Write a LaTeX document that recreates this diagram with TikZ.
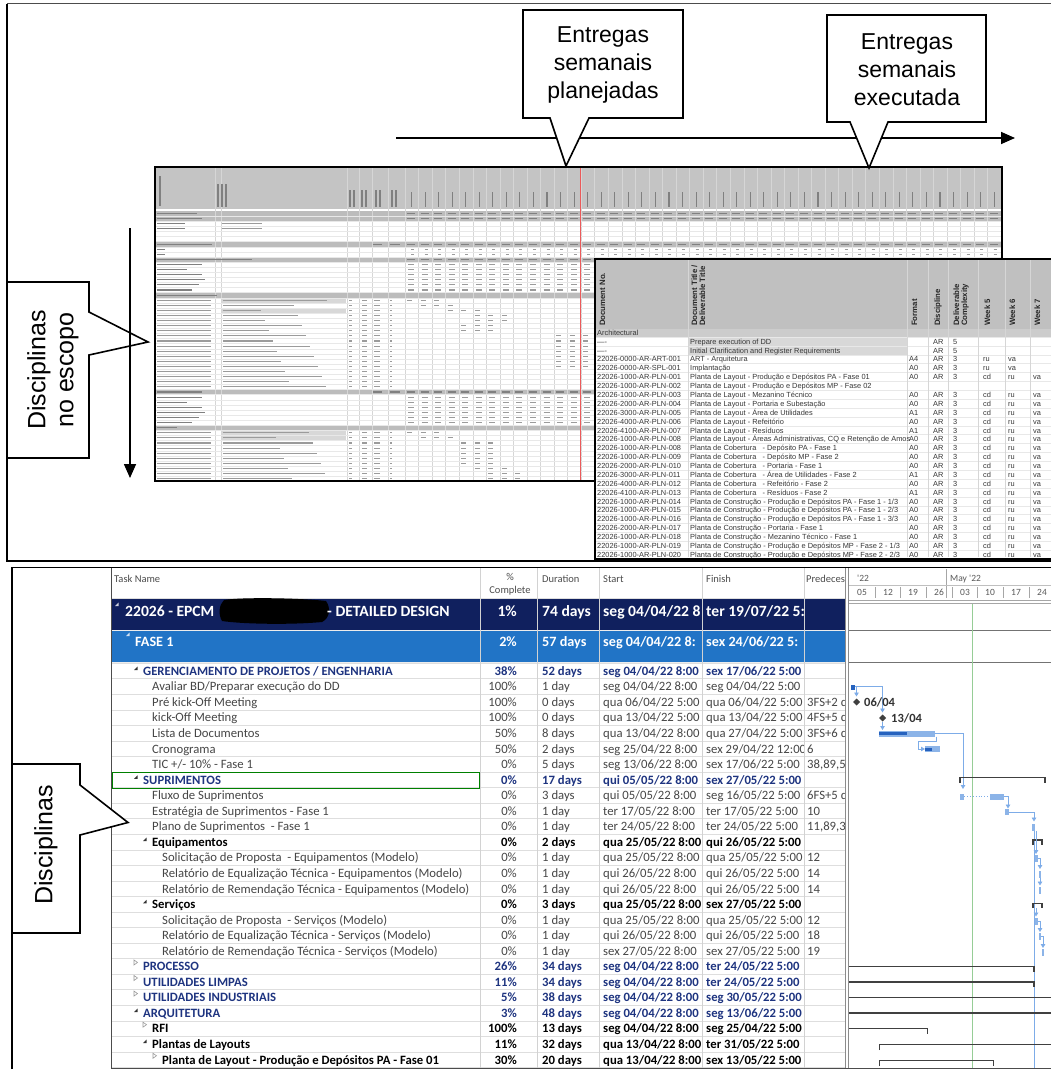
\documentclass[tikz,border=0pt]{standalone}
\usepackage{fontspec}
\setmainfont{Liberation Sans}
\newfontfamily\calfont{Carlito}
\usetikzlibrary{arrows.meta}

\definecolor{navyrow}{RGB}{16,32,94}
\definecolor{bluerow}{RGB}{33,116,198}
\definecolor{sumtxt}{RGB}{30,52,128}
\definecolor{tasktxt}{RGB}{70,70,70}
\definecolor{gridc}{RGB}{222,222,222}
\definecolor{hdrgray}{RGB}{196,196,196}
\definecolor{secgray}{RGB}{188,188,188}
\definecolor{ltgray}{RGB}{216,216,216}
\definecolor{listhdr}{RGB}{192,192,192}
\definecolor{listsec}{RGB}{204,204,204}
\definecolor{collinec}{RGB}{214,214,214}
\definecolor{rowlinec}{RGB}{232,232,232}
\definecolor{tabsep}{RGB}{210,210,210}
\definecolor{barlt}{RGB}{140,180,232}
\definecolor{bardk}{RGB}{38,98,190}
\definecolor{linkc}{RGB}{125,172,232}
\definecolor{sumbar}{RGB}{64,64,64}
\definecolor{todayc}{RGB}{150,205,150}
\definecolor{ssgray}{RGB}{155,155,155}
\definecolor{dtxt}{RGB}{55,55,55}
\definecolor{redline}{RGB}{235,90,90}

\tikzset{
  callout/.style={draw=black, line width=1.6pt, fill=white, line join=miter},
  ctext/.style={font=\fontsize{23}{28}\selectfont, align=center, inner sep=0pt},
  vtext/.style={font=\fontsize{25}{28}\selectfont, align=center, inner sep=0pt, rotate=90},
  ph/.style={line width=1.1pt, ssgray},
  phd/.style={line width=1.1pt, black!50},
  hph/.style={line width=1.1pt, black!50},
  colline/.style={draw=collinec, line width=0.5pt},
  rowline/.style={draw=rowlinec, line width=0.4pt},
  dt/.style={font=\fontsize{7.4}{8}\selectfont, text=dtxt, anchor=base west, inner sep=0pt},
  dh/.style={font=\bfseries\fontsize{7.8}{8}\selectfont, text=black!85, rotate=90, anchor=base west, inner sep=0pt},
  tk/.style={font=\calfont\fontsize{12.7}{14}\selectfont, text=tasktxt, anchor=base west, inner sep=0pt},
  rT/.style={},
  rSE/.style={font=\calfont\bfseries\fontsize{12.7}{14}\selectfont, text=sumtxt},
  rSC/.style={rSE},
  rBE/.style={font=\calfont\bfseries\fontsize{12.7}{14}\selectfont, text=black},
  rBC/.style={rBE},
  gh/.style={font=\calfont\fontsize{10.5}{12}\selectfont, text=black!70, anchor=base west, inner sep=0pt},
  wk/.style={font=\calfont\fontsize{9.5}{11}\selectfont, text=black!65, anchor=base, inner sep=0pt},
  bar/.style={fill=barlt},
  prog/.style={fill=bardk},
  link/.style={draw=linkc, line width=0.9pt},
  linka/.style={link, -{Triangle[length=4pt,width=4.5pt]}},
  sumb/.style={draw=sumbar, line width=1.8pt},
  msl/.style={font=\calfont\bfseries\fontsize{12.5}{14}\selectfont, text=black!80, anchor=west, inner sep=0pt},
  big/.style={font=\calfont\bfseries\fontsize{15.6}{17}\selectfont, text=white},
  mid/.style={font=\calfont\bfseries\fontsize{14.2}{16}\selectfont, text=white},
}

% outline markers in the task-name column
\newcommand\mkrSE[2]{\fill[black!80] ({#1-9},{#2-1}) -- ({#1-5.5},{#2-1}) -- ({#1-5.5},{#2-4.5}) -- cycle;}
\newcommand\mkrBE[2]{\mkrSE{#1}{#2}}
\newcommand\mkrSC[2]{\draw[black!40, line width=0.6pt] ({#1-9},{#2-6.5}) -- ({#1-5.5},{#2-4}) -- ({#1-9},{#2-1.5}) -- cycle;}
\newcommand\mkrBC[2]{\mkrSC{#1}{#2}}
\newcommand\mkrT[2]{}

% one task row, split into passes so each column can be clipped
\newcommand\RA[9]{\pgfmathsetmacro\yy{671+15.55*#1}%
  \node[tk,#2] at (#3,\yy+4.3) {#4};%
  \csname mk#2\endcsname{#3}{\yy}%
  \node[tk,#2,anchor=base east] at (517,\yy+4.3) {#5};%
  \node[tk,#2] at (542,\yy+4.3) {#6};}
\newcommand\RB[9]{\pgfmathsetmacro\yy{671+15.55*#1}\node[tk,#2] at (603,\yy+4.3) {#7};}
\newcommand\RC[9]{\pgfmathsetmacro\yy{671+15.55*#1}\node[tk,#2] at (706,\yy+4.3) {#8};}
\newcommand\RD[9]{\pgfmathsetmacro\yy{671+15.55*#1}\node[tk,#2] at (807,\yy+4.3) {#9};}

\newcommand\ganttrows{%
\R{0}{rSE}{143}{GERENCIAMENTO DE PROJETOS / ENGENHARIA}{38\%}{52 days}{seg 04/04/22 8:00}{sex 17/06/22 5:00}{}%
\R{1}{rT}{152}{Avaliar BD/Preparar execução do DD}{100\%}{1 day}{seg 04/04/22 8:00}{seg 04/04/22 5:00}{}%
\R{2}{rT}{152}{Pré kick-Off Meeting}{100\%}{0 days}{qua 06/04/22 5:00}{qua 06/04/22 5:00}{3FS+2 d}%
\R{3}{rT}{152}{kick-Off Meeting}{100\%}{0 days}{qua 13/04/22 5:00}{qua 13/04/22 5:00}{4FS+5 d}%
\R{4}{rT}{152}{Lista de Documentos}{50\%}{8 days}{qua 13/04/22 8:00}{qua 27/04/22 5:00}{3FS+6 d}%
\R{5}{rT}{152}{Cronograma}{50\%}{2 days}{seg 25/04/22 8:00}{sex 29/04/22 12:00}{6}%
\R{6}{rT}{152}{TIC +/- 10\% - Fase 1}{0\%}{5 days}{seg 13/06/22 8:00}{sex 17/06/22 5:00}{38,89,5}%
\R{7}{rSE}{143}{SUPRIMENTOS}{0\%}{17 days}{qui 05/05/22 8:00}{sex 27/05/22 5:00}{}%
\R{8}{rT}{152}{Fluxo de Suprimentos}{0\%}{3 days}{qui 05/05/22 8:00}{seg 16/05/22 5:00}{6FS+5 d}%
\R{9}{rT}{152}{Estratégia de Suprimentos - Fase 1}{0\%}{1 day}{ter 17/05/22 8:00}{ter 17/05/22 5:00}{10}%
\R{10}{rT}{152}{Plano de Suprimentos\ \ - Fase 1}{0\%}{1 day}{ter 24/05/22 8:00}{ter 24/05/22 5:00}{11,89,3}%
\R{11}{rBE}{152}{Equipamentos}{0\%}{2 days}{qua 25/05/22 8:00}{qui 26/05/22 5:00}{}%
\R{12}{rT}{162}{Solicitação de Proposta\ \ - Equipamentos (Modelo)}{0\%}{1 day}{qua 25/05/22 8:00}{qua 25/05/22 5:00}{12}%
\R{13}{rT}{162}{Relatório de Equalização Técnica - Equipamentos (Modelo)}{0\%}{1 day}{qui 26/05/22 8:00}{qui 26/05/22 5:00}{14}%
\R{14}{rT}{162}{Relatório de Remendação Técnica - Equipamentos (Modelo)}{0\%}{1 day}{qui 26/05/22 8:00}{qui 26/05/22 5:00}{14}%
\R{15}{rBE}{152}{Serviços}{0\%}{3 days}{qua 25/05/22 8:00}{sex 27/05/22 5:00}{}%
\R{16}{rT}{162}{Solicitação de Proposta\ \ - Serviços (Modelo)}{0\%}{1 day}{qua 25/05/22 8:00}{qua 25/05/22 5:00}{12}%
\R{17}{rT}{162}{Relatório de Equalização Técnica - Serviços (Modelo)}{0\%}{1 day}{qui 26/05/22 8:00}{qui 26/05/22 5:00}{18}%
\R{18}{rT}{162}{Relatório de Remendação Técnica - Serviços (Modelo)}{0\%}{1 day}{sex 27/05/22 8:00}{sex 27/05/22 5:00}{19}%
\R{19}{rSC}{143}{PROCESSO}{26\%}{34 days}{seg 04/04/22 8:00}{ter 24/05/22 5:00}{}%
\R{20}{rSC}{143}{UTILIDADES LIMPAS}{11\%}{34 days}{seg 04/04/22 8:00}{ter 24/05/22 5:00}{}%
\R{21}{rSC}{143}{UTILIDADES INDUSTRIAIS}{5\%}{38 days}{seg 04/04/22 8:00}{seg 30/05/22 5:00}{}%
\R{22}{rSE}{143}{ARQUITETURA}{3\%}{48 days}{seg 04/04/22 8:00}{seg 13/06/22 5:00}{}%
\R{23}{rBC}{152}{RFI}{100\%}{13 days}{seg 04/04/22 8:00}{seg 25/04/22 5:00}{}%
\R{24}{rBE}{152}{Plantas de Layouts}{11\%}{32 days}{qua 13/04/22 8:00}{ter 31/05/22 5:00}{}%
\R{25}{rBC}{162}{Planta de Layout - Produção e Depósitos PA - Fase 01}{30\%}{20 days}{qua 13/04/22 8:00}{sex 13/05/22 5:00}{}%
}

% one row of the document list
\newcommand\trow[9]{\pgfmathsetmacro\ty{341.5+8.88*#1}%
  \node[dt] at (597,\ty+2.7) {#2};\node[dt] at (690,\ty+2.7) {#3};%
  \node[dt] at (909,\ty+2.7) {#4};\node[dt] at (933,\ty+2.7) {#5};%
  \node[dt] at (953,\ty+2.7) {#6};\node[dt] at (983,\ty+2.7) {#7};%
  \node[dt] at (1008,\ty+2.7) {#8};\node[dt] at (1033,\ty+2.7) {#9};}

\begin{document}
\begin{tikzpicture}[x=1pt,y=-1pt]
\useasboundingbox (0,0) rectangle (1051,1070);
\fill[white] (0,0) rectangle (1051,1070);

%% ================= upper panel =================
\draw[black!70, line width=1pt] (7,4) -- (1051,4);
\draw[black, line width=1.3pt] (7,4) -- (7,561) -- (1051,561);

%% --- weekly delivery sheet (background) ---
\begin{scope}
\clip (156,168) rectangle (1001,480);
\fill[hdrgray] (156,168) rectangle (1001,209);
\foreach \i in {0,1,6,9,16,35,42}
  \fill[secgray] (156,{211+5.1*\i}) rectangle (1001,{216.1+5.1*\i});
\foreach \i in {17,19,43,44}
  \fill[ltgray] (221,{211+5.1*\i}) rectangle (346,{216.1+5.1*\i});
\foreach \x in {215,221,347,359,372,388} \draw[colline] (\x,168) -- (\x,480);
\foreach \w in {0,...,43} \draw[colline] ({405+13.55*\w},168) -- ({405+13.55*\w},480);
\foreach \i in {0,...,52} \draw[rowline] (156,{216.1+5.1*\i}) -- (1001,{216.1+5.1*\i});
% rotated header captions
\draw[hph] (160,176) -- (160,206);
\foreach \x in {218,222,226} \draw[hph] (\x,184) -- (\x,207);
\foreach \x in {350,354,362,366,376,380,392,396} \draw[hph] (\x,190) -- (\x,207);
\foreach \w in {0,...,43} \draw[hph] ({411.5+13.55*\w},192) -- ({411.5+13.55*\w},207);
% summary rows
\foreach \i in {0,1,6,9} {\foreach \w in {0,...,43} {\draw[phd] ({407+13.55*\w},{213.5+5.1*\i}) -- ++(8,0);}}
\foreach \i in {7,8} {\foreach \w in {0,...,43} {\draw[ph] ({411+13.55*\w},{213.5+5.1*\i}) -- ++(3,0);}}
\foreach \i/\l in {0/40,1/45,2/28,3/28,6/55,7/8,8/8,9/95,10/45,11/30,12/45,13/48,14/42,15/35,16/60,35/45,36/45,37/30,38/45,39/48,40/42,41/35,42/20}
  \draw[phd] (157,{213.5+5.1*\i}) -- ++(\l,0);
\foreach \i in {2,3} \draw[ph] (222,{213.5+5.1*\i}) -- ++(40,0);
\foreach \i in {6,35} {\draw[phd] (373,{213.5+5.1*\i}) -- ++(9,0); \draw[phd] (390,{213.5+5.1*\i}) -- ++(10,0);}
\foreach \i in {10,...,15,36,37,38,39,40,41} {\foreach \w in {0,...,13} {\draw[ph] ({408+13.55*\w},{213.5+5.1*\i}) -- ++(6,0);}}
\foreach \w in {0,...,14} \draw[phd] ({407+13.55*\w},{213.5+5.1*35}) -- ++(8,0);
% document rows
\foreach \i/\s in {17/0,18/1,19/3,20/5,21/5,22/4,23/4,24/11,25/11,26/11,27/11,28/11,29/11,30/11,31/99,32/99,33/99,34/99,43/0,44/1,45/4,46/4,47/4,48/4,49/4,50/5,51/6,52/6} {
  \pgfmathsetmacro\yy{213.5+5.1*\i}
  \pgfmathsetmacro\tw{35+mod(\i*37,70)}
  \draw[ph] (157,\yy) -- (211,\yy);
  \draw[ph] (223,\yy) -- ++(\tw,0);
  \draw[ph] (349,\yy) -- ++(3,0);
  \draw[ph] (362,\yy) -- ++(5,0);
  \draw[ph] (374,\yy) -- ++(6,0);
  \draw[ph] (390,\yy) -- ++(2,0);
  \foreach \k in {0,1,2} \draw[ph] ({407+13.55*(\s+\k)},\yy) -- ++(5,0);
}
\draw[redline, line width=0.8pt] (580,168) -- (580,480);
\end{scope}
\draw[black, line width=2pt] (155,167) rectangle (1002,481);

%% --- document list (foreground) ---
\fill[white] (595,259) rectangle (1051,560);
\begin{scope}
\clip (596,260) rectangle (1051,557);
\fill[listhdr] (596,260) rectangle (1051,329);
\fill[listsec] (596,329) rectangle (1051,337);
\fill[ltgray] (688,337) rectangle (907,355);
\foreach \j in {0,...,25} \draw[rowline] (596,{337+8.88*\j}) -- (1051,{337+8.88*\j});
\foreach \x in {688,907,928,948,978,1005,1030} \draw[colline] (\x,260) -- (\x,557);
\node[dh] at (605,326) {Document No.};
\node[dh] at (697,326) {Document Title /};
\node[dh] at (705,326) {Deliverable Title};
\node[dh] at (917,326) {Format};
\node[dh] at (940,326) {Discipline};
\node[dh] at (959,326) {Deliverable};
\node[dh] at (967,326) {Complexity};
\node[dh] at (990,326) {Week 5};
\node[dh] at (1015,326) {Week 6};
\node[dh] at (1040,326) {Week 7};
\node[dt] at (597,335.5) {Architectural};
\trow{0}{----}{Prepare execution of DD}{}{AR}{5}{}{}{}
\trow{1}{----}{Initial Clarification and Register Requirements}{}{AR}{5}{}{}{}
\trow{2}{22026-0000-AR-ART-001}{ART - Arquitetura}{A4}{AR}{3}{ru}{va}{}
\trow{3}{22026-0000-AR-SPL-001}{Implantação}{A0}{AR}{3}{ru}{va}{}
\trow{4}{22026-1000-AR-PLN-001}{Planta de Layout - Produção e Depósitos PA - Fase 01}{A0}{AR}{3}{cd}{ru}{va}
\trow{5}{22026-1000-AR-PLN-002}{Planta de Layout - Produção e Depósitos MP - Fase 02}{}{}{}{}{}{}
\trow{6}{22026-1000-AR-PLN-003}{Planta de Layout - Mezanino Técnico}{A0}{AR}{3}{cd}{ru}{va}
\trow{7}{22026-2000-AR-PLN-004}{Planta de Layout - Portaria e Subestação}{A0}{AR}{3}{cd}{ru}{va}
\trow{8}{22026-3000-AR-PLN-005}{Planta de Layout - Área de Utilidades}{A1}{AR}{3}{cd}{ru}{va}
\trow{9}{22026-4000-AR-PLN-006}{Planta de Layout - Refeitório}{A0}{AR}{3}{cd}{ru}{va}
\trow{10}{22026-4100-AR-PLN-007}{Planta de Layout - Resíduos}{A1}{AR}{3}{cd}{ru}{va}
\trow{11}{22026-1000-AR-PLN-008}{Planta de Layout - Áreas Administrativas, CQ e Retenção de Amos}{A0}{AR}{3}{cd}{ru}{va}
\trow{12}{22026-1000-AR-PLN-008}{Planta de Cobertura\ \ \ - Depósito PA - Fase 1}{A0}{AR}{3}{cd}{ru}{va}
\trow{13}{22026-1000-AR-PLN-009}{Planta de Cobertura\ \ \ - Depósito MP - Fase 2}{A0}{AR}{3}{cd}{ru}{va}
\trow{14}{22026-2000-AR-PLN-010}{Planta de Cobertura\ \ \ - Portaria - Fase 1}{A0}{AR}{3}{cd}{ru}{va}
\trow{15}{22026-3000-AR-PLN-011}{Planta de Cobertura\ \ \ - Área de Utilidades - Fase 2}{A1}{AR}{3}{cd}{ru}{va}
\trow{16}{22026-4000-AR-PLN-012}{Planta de Cobertura\ \ \ - Refeitório - Fase 2}{A0}{AR}{3}{cd}{ru}{va}
\trow{17}{22026-4100-AR-PLN-013}{Planta de Cobertura\ \ \ - Resíduos - Fase 2}{A1}{AR}{3}{cd}{ru}{va}
\trow{18}{22026-1000-AR-PLN-014}{Planta de Construção - Produção e Depósitos PA - Fase 1 - 1/3}{A0}{AR}{3}{cd}{ru}{va}
\trow{19}{22026-1000-AR-PLN-015}{Planta de Construção - Produção e Depósitos PA - Fase 1 - 2/3}{A0}{AR}{3}{cd}{ru}{va}
\trow{20}{22026-1000-AR-PLN-016}{Planta de Construção - Produção e Depósitos PA - Fase 1 - 3/3}{A0}{AR}{3}{cd}{ru}{va}
\trow{21}{22026-2000-AR-PLN-017}{Planta de Construção - Portaria - Fase 1}{A0}{AR}{3}{cd}{ru}{va}
\trow{22}{22026-1000-AR-PLN-018}{Planta de Construção - Mezanino Técnico - Fase 1}{A0}{AR}{3}{cd}{ru}{va}
\trow{23}{22026-1000-AR-PLN-019}{Planta de Construção - Produção e Depósitos MP - Fase 2 - 1/3}{A0}{AR}{3}{cd}{ru}{va}
\trow{24}{22026-1000-AR-PLN-020}{Planta de Construção - Produção e Depósitos MP - Fase 2 - 2/3}{A0}{AR}{3}{cd}{ru}{va}
\end{scope}
\draw[black, line width=2.2pt] (1051,259) -- (595,259) -- (595,559) -- (1051,559);

%% --- time arrow and its callouts ---
\coordinate (tA) at (396,138);
\coordinate (tB) at (1015,138);
\draw[line width=1.6pt, -{Triangle[length=14pt,width=12pt]}] (tA) -- (tB);
\draw[callout] (523,10) -- (683,10) -- (683,118) -- (589,118) -- (566,166) -- (550,118) -- (523,118) -- cycle;
\node[ctext] (plan) at (603,65) {Entregas\\semanais\\planejadas};
\draw[callout] (827,15) -- (986,15) -- (986,122) -- (888,122) -- (869,168) -- (850,122) -- (827,122) -- cycle;
\node[ctext] (exec) at (907,70) {Entregas\\semanais\\executada};

%% --- discipline arrow and its callout ---
\draw[callout] (7,282) -- (89,282) -- (89,312) -- (148,342) -- (89,355) -- (89,458) -- (7,458) -- cycle;
\node[vtext] (esc) at (53,370) {Disciplinas\\no escopo};
\coordinate (dA) at (130,228);
\coordinate (dB) at (130,478);
\draw[line width=1.6pt, -{Triangle[length=14pt,width=12pt]}] (dA) -- (dB);

%% ================= lower panel =================
\begin{scope}
\clip (112,568) rectangle (1051,1068);
\fill[navyrow] (112,598) rectangle (845,630);
\fill[bluerow] (112,630) rectangle (845,662);
\foreach \k in {0,...,26} \draw[gridc, line width=0.6pt] (112,{663.2+15.55*\k}) -- (845,{663.2+15.55*\k});
\draw[gridc, line width=0.8pt] (112,598) -- (845,598);
\draw[white!85!gray, line width=0.8pt] (112,630) -- (845,630) (112,662) -- (845,662);
\foreach \x in {480,537,599,702,804} \draw[tabsep, line width=0.7pt] (\x,568) -- (\x,1068);

% column titles
\node[gh] at (114,582) {Task Name};
\node[gh, anchor=base] at (510,580) {\%};
\node[gh, anchor=base] at (510,593) {Complete};
\node[gh] at (542,582) {Duration};
\node[gh] at (603,582) {Start};
\node[gh] at (706,582) {Finish};
\node[gh] at (806,582) {Predeces};

% project and phase rows
\fill[white!80!navyrow] (115,606) -- (118.5,606) -- (118.5,602.5) -- cycle;
\node[tk, big] at (125,616.5) {22026 - EPCM};
\fill[black] (224,600) .. controls (242,597) and (300,598) .. (326,601) .. controls (331,608) and (330,618) .. (322,622) .. controls (290,625) and (242,624) .. (222,621) .. controls (218,614) and (219,605) .. (224,600) -- cycle;
\node[tk, big] at (327,616.5) {- DETAILED DESIGN};
\node[tk, big, anchor=base east] at (517,616.5) {1\%};
\node[tk, big] at (542,616.5) {74 days};
\fill[white!80!bluerow] (126,636) -- (129.5,636) -- (129.5,632.5) -- cycle;
\node[tk, mid] at (135,646) {FASE 1};
\node[tk, mid, anchor=base east] at (517,646) {2\%};
\node[tk, mid] at (542,646) {57 days};
\begin{scope}\clip (599,598) rectangle (701,662);
\node[tk, big] at (603,616.5) {seg 04/04/22 8};
\node[tk, mid] at (603,646) {seg 04/04/22 8:};
\end{scope}
\begin{scope}\clip (702,598) rectangle (803,662);
\node[tk, big] at (706,616.5) {ter 19/07/22 5:};
\node[tk, mid] at (706,646) {sex 24/06/22 5:};
\end{scope}

% task rows
\let\R\RA \ganttrows
\begin{scope}\clip (599,662) rectangle (701,1068); \let\R\RB \ganttrows \end{scope}
\begin{scope}\clip (702,662) rectangle (803,1068); \let\R\RC \ganttrows \end{scope}
\begin{scope}\clip (804,662) rectangle (845,1068); \let\R\RD \ganttrows \end{scope}
\draw[green!50!black, line width=1pt] (112.5,772.5) rectangle (479,788);

%% --- Gantt chart ---
\fill[white] (848,568) rectangle (1051,1068);
\draw[black!45, line width=0.7pt] (845.5,568) -- (845.5,1068);
\draw[black!45, line width=0.7pt] (848.5,568) -- (848.5,1068);
\node[wk, anchor=base west] at (857,581) {'22};
\node[wk, anchor=base west] at (950,581) {May '22};
\draw[black!35, line width=0.6pt] (946,569) -- (946,598);
\draw[black!25, line width=0.6pt] (849,585.5) -- (1051,585.5);
\foreach \x/\t in {862/05,888/12,913/19,939/26,965/03,990/10,1016/17,1042/24} \node[wk] at (\x,595) {\t};
\foreach \x in {875,900,926,952,977,1003,1029} \draw[black!35, line width=0.6pt] (\x,587) -- (\x,598);
\draw[black!35, line width=0.6pt] (849,600.5) -- (1051,600.5);
\draw[black!35, line width=0.6pt] (849,603.5) -- (1051,603.5);
\draw[black!55, line width=1pt] (849,630) -- (1051,630);
\draw[black!55, line width=1pt] (849,662) -- (1051,662);
\draw[todayc, line width=0.8pt] (972,604) -- (972,1068);
\draw[linkc, line width=0.9pt] (1034,830) -- (1034,1068);

% management tasks
\fill[bardk] (851,684.5) rectangle (855,689.5);
\draw[linka] (855,686.5) -- (882.5,686.5) -- (882.5,712.5);
\draw[linka] (856.5,686.5) -- (856.5,696.5);
\fill[black!75] (856.5,698.5) -- (860,702) -- (856.5,705.5) -- (853,702) -- cycle;
\node[msl] (m1) at (864,702.5) {06/04};
\fill[black!75] (882.5,714.5) -- (886,718) -- (882.5,721.5) -- (879,718) -- cycle;
\node[msl] (m2) at (891,718) {13/04};
\draw[linka] (882.5,721.5) -- (882.5,730);
\fill[bar] (879,730.5) rectangle (935,736.5);
\fill[prog] (879,732) rectangle (907,735);
\draw[linka] (935,733.5) -- (963,733.5) -- (963,789);
\draw[linka] (936,736.5) -- (936,741) -- (918,741) -- (918,749) -- (925,749);
\fill[bar] (925,746) rectangle (940,752);
\fill[prog] (925,747.5) rectangle (932,750.5);

% procurement tasks
\draw[sumb] (960,783) -- (960,777.5) -- (1045,777.5) -- (1045,783);
\fill[bar] (960,793.5) rectangle (964,799.5);
\draw[linkc, line width=0.9pt, dotted] (964,796.5) -- (990,796.5);
\fill[bar] (990,793.5) rectangle (1004,799.5);
\draw[linka] (1004,796.5) -- (1008,796.5) -- (1008,808.5);
\fill[bar] (1005,809) rectangle (1008.5,815);
\draw[linka] (1008.5,812) -- (1034,812) -- (1034,821.5);
\fill[bar] (1031.5,823.5) rectangle (1034.5,830.5);
\draw[sumb] (1033,845) -- (1033,840) -- (1042,840) -- (1042,845);
\draw[linka] (1036,830.5) -- (1036,854);
\fill[bar] (1035,855) rectangle (1037.5,862);
\draw[linka] (1037.5,858.5) -- (1040,858.5) -- (1040,869);
\fill[bar] (1038.7,870.5) rectangle (1041.2,877.5);
\draw[linka] (1040,877.5) -- (1040,885.5);
\fill[bar] (1038.7,886.5) rectangle (1041.2,893.5);
\draw[sumb] (1033,908) -- (1033,903.5) -- (1042,903.5) -- (1042,908);
\draw[linka] (1036,908) -- (1036,916.5);
\fill[bar] (1035,917.5) rectangle (1037.5,924.5);
\draw[linka] (1037.5,921) -- (1040,921) -- (1040,932);
\fill[bar] (1038.7,933) rectangle (1041.2,940);
\draw[linka] (1041.2,936.5) -- (1043,936.5) -- (1043,948);
\fill[bar] (1041.7,949) rectangle (1044.3,956);

% discipline summaries
\draw[sumb] (849,966.5) -- (1034,966.5) -- (1034,971.5);
\draw[sumb] (849,982) -- (1034,982) -- (1034,987);
\draw[sumb] (849,997.5) -- (1051,997.5);
\draw[sumb] (849,1013) -- (1051,1013);
\draw[sumb] (849,1028.5) -- (927.5,1028.5) -- (927.5,1034);
\draw[sumb] (879.5,1050) -- (879.5,1044.5) -- (1051,1044.5);
\draw[sumb] (879.5,1066) -- (879.5,1060.5) -- (993.5,1060.5) -- (993.5,1066);
\end{scope}
\draw[black, line width=1.6pt] (12,1069) -- (12,567.5) -- (1051,567.5);
\draw[black!70, line width=1pt] (111,568) -- (111,1068) -- (1051,1068);

%% --- discipline callout ---
\draw[callout] (12,764) -- (80,764) -- (80,785) -- (128,822.5) -- (80,835) -- (80,933) -- (12,933) -- cycle;
\node[vtext] (disc) at (46,845) {Disciplinas};
\end{tikzpicture}
\end{document}
